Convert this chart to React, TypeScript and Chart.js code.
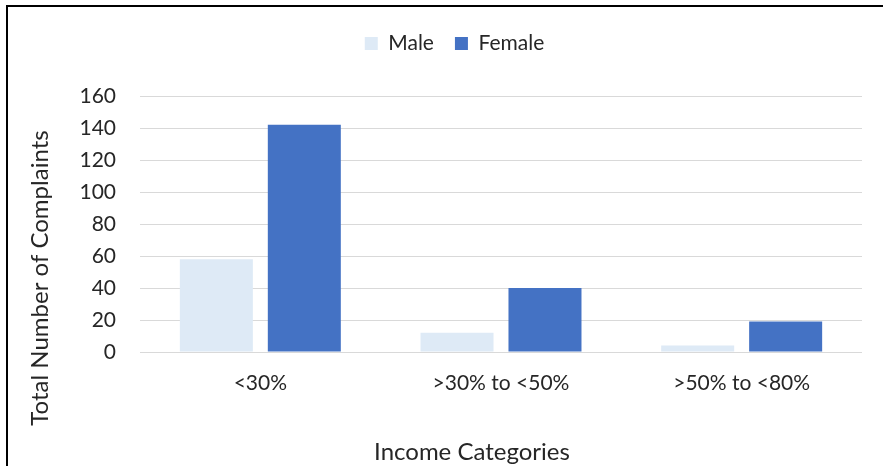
import React, { useEffect, useRef } from "react";
import { Chart, registerables } from "chart.js";

Chart.register(...registerables);

const categories = ["<30%", ">30% to <50%", ">50% to <80%"];
const maleValues = [58, 12, 4];
const femaleValues = [142, 40, 19];
const yTicks = [0, 20, 40, 60, 80, 100, 120, 140, 160];
const xTitle = "Income Categories";
const yTitle = "Total Number of Complaints";

const FONT = "Lato, 'Open Sans', sans-serif";
const TEXT = "#262626";

const titlesPlugin = {
  id: "axisTitles",
  beforeLayout(chart: any) {
    const lg = chart.legend;
    if (lg && !lg._extraWrapped) {
      const orig = lg.fit.bind(lg);
      lg.fit = function () {
        orig();
        this.height += 32;
      };
      lg._extraWrapped = true;
    }
  },
  afterDraw(chart: any) {
    const ctx = chart.ctx;
    ctx.save();
    ctx.fillStyle = TEXT;
    ctx.font = `24px ${FONT}`;
    ctx.textAlign = "center";
    ctx.textBaseline = "middle";
    ctx.fillText(xTitle, 472, 452);
    ctx.translate(40, 278);
    ctx.rotate(-Math.PI / 2);
    ctx.fillText(yTitle, 0, 0);
    ctx.restore();
  },
};

export default function App() {
  const ref = useRef<HTMLCanvasElement>(null);
  useEffect(() => {
    if (!ref.current) return;
    const chart = new Chart(ref.current, {
      type: "bar",
      data: {
        labels: categories,
        datasets: [
          {
            label: "Male",
            data: maleValues,
            backgroundColor: "#DEEAF6",
            barPercentage: 0.83,
            categoryPercentage: 0.731,
          },
          {
            label: "Female",
            data: femaleValues,
            backgroundColor: "#4472C4",
            barPercentage: 0.83,
            categoryPercentage: 0.731,
          },
        ],
      },
      options: {
        animation: false,
        responsive: false,
        maintainAspectRatio: false,
        layout: { padding: { left: 47, right: 21, top: 12, bottom: 0 } },
        plugins: {
          tooltip: { enabled: false },
          legend: {
            position: "top",
            labels: {
              boxWidth: 13,
              boxHeight: 13,
              padding: 21,
              color: TEXT,
              font: { family: FONT, size: 21 },
            },
          },
        },
        scales: {
          x: {
            grid: { display: false, drawTicks: false },
            border: { display: false },
            ticks: {
              color: TEXT,
              font: { family: FONT, size: 21 },
              padding: 19,
            },
            afterFit(scale: any) {
              scale.height = 466 - 352;
            },
          },
          y: {
            min: 0,
            max: 160,
            afterBuildTicks(scale: any) {
              scale.ticks = yTicks.map((v) => ({ value: v }));
            },
            grid: { color: "#D9D9D9", lineWidth: 1, drawTicks: false },
            border: { display: false },
            ticks: {
              color: TEXT,
              font: { family: FONT, size: 21 },
              padding: 24,
            },
            afterFit(scale: any) {
              scale.width = 140 - 47;
            },
          },
        },
      },
      plugins: [titlesPlugin],
    });
    return () => chart.destroy();
  }, []);
  return (
    <div style={{ position: "fixed", left: 0, top: 0, width: 883, height: 466, background: "#fff", overflow: "hidden" }}>
      <div
        style={{
          position: "absolute",
          left: 6,
          top: 5,
          width: 900,
          height: 500,
          borderLeft: "2px solid #000",
          borderTop: "2px solid #000",
        }}
      />
      <canvas ref={ref} width={883} height={466} style={{ position: "absolute", left: 0, top: 0 }} />
    </div>
  );
}
